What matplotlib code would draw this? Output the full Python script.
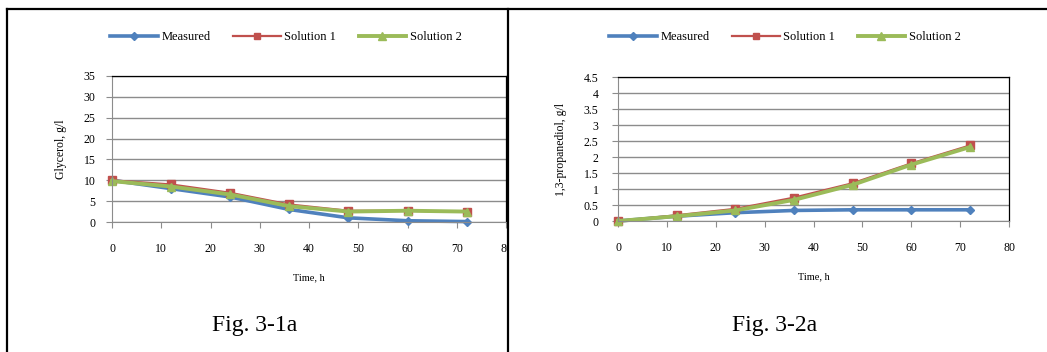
import matplotlib.pyplot as plt
from matplotlib.lines import Line2D
from matplotlib.patches import Rectangle

plt.rcParams['font.family'] = ['Liberation Serif', 'DejaVu Serif']

# sampling times, h
time_h = [0, 12, 24, 36, 48, 60, 72]

# glycerol, g/l
gly_measured = [10.0, 8.0, 6.0, 3.0, 1.0, 0.3, 0.1]
gly_sol1 = [10.0, 9.0, 7.0, 4.2, 2.7, 2.7, 2.4]
gly_sol2 = [9.8, 8.5, 6.6, 3.8, 2.5, 2.7, 2.5]

# 1,3-propanediol, g/l
pd_measured = [0.0, 0.15, 0.26, 0.33, 0.35, 0.35, 0.35]
pd_sol1 = [0.0, 0.18, 0.38, 0.73, 1.18, 1.80, 2.36]
pd_sol2 = [0.0, 0.15, 0.33, 0.66, 1.13, 1.76, 2.31]

series_names = ['Measured', 'Solution 1', 'Solution 2']
colors = ['#4F81BD', '#C0504D', '#9BBB59']
markers = ['D', 's', '^']
msizes = [4.5, 5.5, 6]
lwidths = [2.6, 1.6, 2.8]

W, H = 1047, 352
fig = plt.figure(figsize=(W / 100, H / 100), dpi=100)


def px(x0, y0, x1, y1):
    return [x0 / W, 1 - y1 / H, (x1 - x0) / W, (y1 - y0) / H]


def panel(rect, ys, ymax, ystep, ylabel, ylab_x, yfmt, ypad):
    ax = fig.add_axes(rect)
    for y, name, c, m, ms, lw in zip(ys, series_names, colors, markers, msizes, lwidths):
        ax.plot(time_h, y, color=c, marker=m, markersize=ms, lw=lw,
                label=name, clip_on=False)
    ax.set_xlim(0, 80)
    ax.set_ylim(0, ymax)
    ax.set_xticks(range(0, 81, 10))
    n = int(round(ymax / ystep))
    yt = [i * ystep for i in range(n + 1)]
    ax.set_yticks(yt)
    ax.set_yticklabels([yfmt(v) for v in yt])
    ax.yaxis.grid(True, color='#8c8c8c', lw=1.0)
    ax.set_axisbelow(True)
    for s in ['left', 'bottom']:
        ax.spines[s].set_color('#8c8c8c')
    for s in ['top', 'right']:
        ax.spines[s].set_color('black')
        ax.spines[s].set_linewidth(0.9)
    ax.tick_params(axis='x', direction='out', length=4, color='#8c8c8c',
                   labelsize=8.5, pad=11)
    ax.tick_params(axis='y', direction='out', length=4, color='#8c8c8c',
                   labelsize=8.5, pad=ypad)
    ax.set_xlabel('Time, h', fontsize=7.5)
    ax.xaxis.set_label_coords(0.5, -(273 - 222) / (rect[3] * H), transform=ax.transAxes)
    ax.set_ylabel(ylabel, fontsize=8.5)
    ax.yaxis.set_label_coords(ylab_x, 0.5)
    return ax


ax1 = panel(px(112, 76, 506, 222), [gly_measured, gly_sol1, gly_sol2], 35, 5,
            'Glycerol, g/l', -(112 - 67) / 394, lambda v: '%d' % v, 8)
ax2 = panel(px(618, 77, 1009, 221), [pd_measured, pd_sol1, pd_sol2], 4.5, 0.5,
            '1,3-propanediol, g/l', -(618 - 567) / 391, lambda v: '%g' % v, 10)

for ax, cx in [(ax1, 286), (ax2, 785)]:
    ax.legend(loc='center', bbox_to_anchor=(cx / W, 1 - 37 / H),
              bbox_transform=fig.transFigure, ncol=3, frameon=False,
              fontsize=9, handlelength=3.8, columnspacing=1.8,
              handletextpad=0.3, markerscale=0.9)

# cover what spills past the cell border
fig.add_artist(Rectangle((509 / W, 0), 40 / W, 1 - 10 / H, transform=fig.transFigure,
                         facecolor='white', edgecolor='none', zorder=5))

# table borders
bw = 1.6
fig.add_artist(Line2D([7 / W, 1], [1 - 9 / H, 1 - 9 / H], color='black', lw=bw, zorder=6))
fig.add_artist(Line2D([7 / W, 7 / W], [0, 1 - 9 / H], color='black', lw=bw, zorder=6))
fig.add_artist(Line2D([508 / W, 508 / W], [0, 1 - 9 / H], color='black', lw=bw, zorder=6))

# captions
fig.text(255 / W, 1 - 326 / H, 'Fig. 3-1a', ha='center', va='center', fontsize=17)
fig.text(775 / W, 1 - 326 / H, 'Fig. 3-2a', ha='center', va='center', fontsize=17)

# sentence above the table, cut off by the top edge
fig.text(25 / W, 1 + 5 / H, 'The models fit only to the glycerol data', ha='left',
         va='baseline', fontsize=16)

fig.savefig('out.png', dpi=100)
